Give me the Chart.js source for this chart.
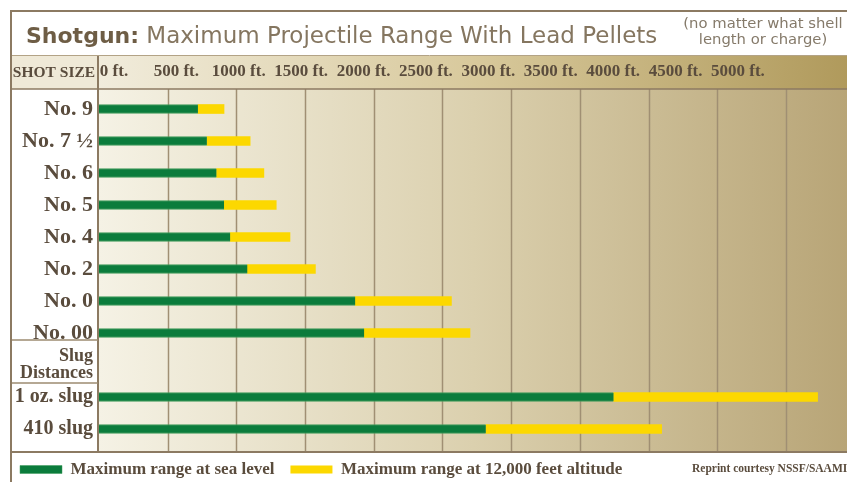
<!DOCTYPE html>
<html>
<head>
  <meta charset="UTF-8">
  <title>Shotgun: Maximum Projectile Range With Lead Pellets</title>
  <script src="https://cdn.jsdelivr.net/npm/chart.js"></script>
  <style>
    html, body { margin: 0; padding: 0; background: #fff; }
    canvas { display: block; }
  </style>
</head>
<body>
  <canvas id="rangeChart" width="847" height="482"></canvas>

  <script>
    // ranges in feet
    const shotSizes = ['No. 9', 'No. 7 ½', 'No. 6', 'No. 5', 'No. 4', 'No. 2', 'No. 0', 'No. 00',
                       ['Slug', 'Distances'], '1 oz. slug', '410 slug'];
    const seaLevel = [720, 785, 855, 910, 955, 1080, 1865, 1930, null, 3745, 2815];
    const highAltitude = [910, 1100, 1200, 1290, 1390, 1575, 2565, 2700, null, 5230, 4095];
    const distanceTicks = [0, 500, 1000, 1500, 2000, 2500, 3000, 3500, 4000, 4500, 5000];
    const distanceLabels = ['0 ft.', '500 ft.', '1000 ft.', '1500 ft.', '2000 ft.', '2500 ft.',
                            '3000 ft.', '3500 ft.', '4000 ft.', '4500 ft.', '5000 ft.'];

    const SERIF = '"Liberation Serif", "Times New Roman", serif';
    const INK = '#5a4c3d';
    const LINE = '#8c7a62';

    function rule(ctx, x1, y1, x2, y2, color, w) {
      ctx.beginPath();
      ctx.moveTo(x1, y1);
      ctx.lineTo(x2, y2);
      ctx.strokeStyle = color;
      ctx.lineWidth = w;
      ctx.stroke();
    }

    const framePlugin = {
      id: 'frame',
      beforeDraw(chart) {
        const ctx = chart.ctx, W = chart.width;
        ctx.save();
        ctx.fillStyle = '#fff';
        ctx.fillRect(0, 0, W, chart.height);

        // header row
        ctx.fillStyle = '#efe9d7';
        ctx.fillRect(12, 56, 87, 33);
        let g = ctx.createLinearGradient(99, 0, W, 0);
        g.addColorStop(0, '#f1ecdc');
        g.addColorStop(0.5, '#d8c99c');
        g.addColorStop(1, '#b09a5c');
        ctx.fillStyle = g;
        ctx.fillRect(99, 56, W - 99, 33);

        // plot background
        g = ctx.createLinearGradient(99, 0, W, 0);
        g.addColorStop(0, '#f5f2e5');
        g.addColorStop(0.5, '#dbd0ae');
        g.addColorStop(1, '#b8a577');
        ctx.fillStyle = g;
        ctx.fillRect(99, 89, W - 99, 363);
        ctx.restore();
      },
      beforeDatasetsDraw(chart) {
        const ctx = chart.ctx, x = chart.scales.x;
        ctx.save();
        distanceTicks.slice(1).forEach(v => {
          const px = Math.round(x.getPixelForValue(v)) + 0.5;
          rule(ctx, px, 89, px, 452, '#a08f73', 1.5);
        });
        ctx.restore();
      },
      afterDraw(chart) {
        const ctx = chart.ctx, W = chart.width;
        ctx.save();
        rule(ctx, 10, 11, W, 11, LINE, 2);
        rule(ctx, 11, 10, 11, chart.height, LINE, 2);
        rule(ctx, 12, 55.5, W, 55.5, '#b3a386', 1);
        rule(ctx, 12, 89, W, 89, LINE, 1.5);
        rule(ctx, 98, 56, 98, 452, LINE, 2);
        rule(ctx, 12, 340, 98, 340, '#9c8b71', 1.5);
        rule(ctx, 12, 383, 98, 383, '#9c8b71', 1.5);
        rule(ctx, 12, 452, W, 452, LINE, 2);

        // title
        ctx.textBaseline = 'alphabetic';
        ctx.textAlign = 'left';
        ctx.font = 'bold 22px "DejaVu Sans"';
        ctx.fillStyle = '#6e5d45';
        ctx.fillText('Shotgun:', 26, 43);
        const w = ctx.measureText('Shotgun:').width;
        ctx.font = '23px "DejaVu Sans"';
        ctx.fillStyle = '#857660';
        ctx.fillText(' Maximum Projectile Range With Lead Pellets', 26 + w, 43);

        ctx.textAlign = 'center';
        ctx.font = '14.8px "DejaVu Sans"';
        ctx.fillStyle = '#857a6a';
        ctx.fillText('(no matter what shell', 763, 28);
        ctx.fillText('length or charge)', 763, 44);

        ctx.font = 'bold 15.5px ' + SERIF;
        ctx.fillStyle = INK;
        ctx.fillText('SHOT SIZE', 54, 77);

        ctx.textAlign = 'left';
        ctx.font = 'bold 11.5px ' + SERIF;
        ctx.fillText('Reprint courtesy NSSF/SAAMI', 692, 472);
        ctx.restore();
      }
    };

    new Chart(document.getElementById('rangeChart'), {
      type: 'bar',
      data: {
        labels: shotSizes,
        datasets: [{
          label: 'Maximum range at sea level',
          data: seaLevel,
          backgroundColor: '#0b7c3c',
          borderColor: '#3f9b5a',
          borderWidth: { top: 1, bottom: 1, left: 0, right: 0 },
          borderSkipped: false,
          barThickness: 9,
          grouped: false
        }, {
          label: 'Maximum range at 12,000 feet altitude',
          data: seaLevel.map((v, i) => v == null ? null : [v, highAltitude[i]]),
          backgroundColor: '#fcd800',
          borderWidth: 0,
          barThickness: 9,
          grouped: false
        }]
      },
      options: {
        indexAxis: 'y',
        responsive: false,
        animation: false,
        layout: { padding: { left: 4, top: 60, right: 0, bottom: 0 } },
        scales: {
          x: {
            type: 'linear',
            display: false,
            min: 0,
            max: 5444,
            afterBuildTicks: s => { s.ticks = distanceTicks.map(v => ({ value: v })); }
          },
          // header labels sit a little off the grid in the original, so they get their own scale
          xTop: {
            type: 'linear',
            axis: 'x',
            position: 'top',
            min: -120,
            max: 5874,
            grid: { display: false, drawTicks: false },
            border: { display: false },
            afterBuildTicks: s => { s.ticks = distanceTicks.map(v => ({ value: v })); },
            afterFit: s => { s.height = 33; },
            ticks: {
              autoSkip: false,
              maxRotation: 0,
              padding: 11,
              color: INK,
              font: { family: SERIF, size: 17, weight: 'bold' },
              callback: (v, i) => distanceLabels[i]
            }
          },
          y: {
            grid: { display: false, drawTicks: false },
            border: { display: false },
            afterFit: s => { s.width = 95; },
            ticks: {
              autoSkip: false,
              padding: 6,
              color: INK,
              font: c => ({
                family: SERIF,
                weight: 'bold',
                size: c.index === 8 ? 18 : (c.index > 8 ? 20 : 22),
                lineHeight: c.index === 8 ? 0.95 : 1.2
              })
            }
          }
        },
        plugins: {
          tooltip: { enabled: false },
          legend: {
            position: 'bottom',
            align: 'start',
            maxHeight: 37,
            labels: {
              boxWidth: 42,
              boxHeight: 8,
              padding: 16,
              color: INK,
              font: { family: SERIF, size: 17, weight: 'bold' }
            }
          }
        }
      },
      plugins: [framePlugin]
    });
  </script>
</body>
</html>
